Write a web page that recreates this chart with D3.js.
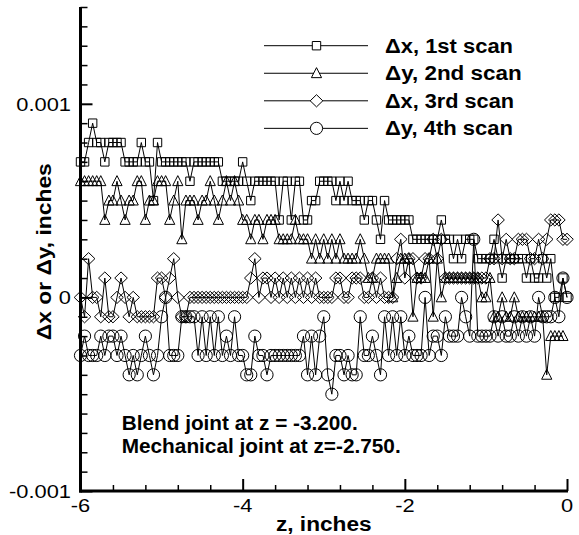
<!DOCTYPE html>
<html><head><meta charset="utf-8">
<script src="https://cdn.jsdelivr.net/npm/d3@7"></script>
<style>body{margin:0;background:#fff} svg{display:block}</style>
</head><body>
<svg id="c" width="579" height="535"></svg>
<script>
// z positions, inches
const zValues = [-6,-5.95,-5.9,-5.85,-5.8,-5.75,-5.7,-5.65,-5.6,-5.55,-5.5,-5.45,-5.4,-5.35,-5.3,-5.25,-5.2,-5.15,-5.1,-5.05,
-5,-4.95,-4.9,-4.85,-4.8,-4.75,-4.7,-4.65,-4.6,-4.55,-4.5,-4.45,-4.4,-4.35,-4.3,-4.25,-4.2,-4.15,-4.1,-4.05,
-4,-3.95,-3.9,-3.85,-3.8,-3.75,-3.7,-3.65,-3.6,-3.55,-3.5,-3.45,-3.4,-3.35,-3.3,-3.25,-3.2,-3.15,-3.1,-3.05,
-3,-2.95,-2.9,-2.85,-2.8,-2.75,-2.7,-2.65,-2.6,-2.55,-2.5,-2.45,-2.4,-2.35,-2.3,-2.25,-2.2,-2.15,-2.1,-2.05,
-2,-1.95,-1.9,-1.85,-1.8,-1.75,-1.7,-1.65,-1.6,-1.55,-1.5,-1.45,-1.4,-1.35,-1.3,-1.25,-1.2,-1.15,-1.1,-1.05,
-1,-0.95,-0.9,-0.85,-0.8,-0.75,-0.7,-0.65,-0.6,-0.55,-0.5,-0.45,-0.4,-0.35,-0.3,-0.25,-0.2,-0.15,-0.1,-0.05,0];

// deviations in units of 0.0001 inch
const dx1st = [7,7,8,9,8,8,7,8,8,8,8,7,7,7,7,8,7,7,5,8,7,7,7,7,7,
7,7,6,7,7,7,7,7,7,7,6,6,6,6,6,7,6,5,6,6,6,6,6,6,
4,6,6,4,6,6,4,4,5,5,6,6,6,6,5,6,5,6,5,5,5,4,5,5,
4,3,5,4,4,4,4,4,4,3,3,3,3,3,3,3,4,3,3,2,3,2,3,3,
3,2,2,2,2,3,2,1,2,2,2,2,2,1,2,1,1,2,1,2,0,0,1,0];
const dy2nd = [6,6,6,6,6,6,4,5,5,6,5,4,5,5,6,6,4,5,5,6,6,6,4,5,6,
3,5,5,5,4,5,5,6,5,4,5,6,5,6,5,4,4,3,4,4,3,4,4,4,
3,3,3,3,4,3,3,3,2,3,2,3,2,3,2,3,2,2,2,2,3,2,1,
1,2,2,2,2,0,1,2,2,2,-1,1,1,1,2,-1,2,0,1,1,1,1,1,1,
1,1,1,0,0,1,-1,-1,0,-1,-1,0,-1,-1,-1,-1,-1,-1,-1,-4,-2,-2,-2,-2];
const dx3rd = [0,-1,2,0,0,-1,1,-1,-1,0,1,0,-1,0,-1,-1,-1,-1,-1,1,1,0,1,2,0,
-1,-1,0,0,0,0,0,0,0,0,0,0,0,0,0,0,0,1,2,0,1,1,0,1,
0,1,0,1,0,1,0,1,0,1,0,0,0,0,1,1,0,0,1,1,1,0,0,1,
0,1,0,0,0,2,3,1,2,2,1,1,2,2,3,2,3,1,1,1,1,1,1,1,
1,1,1,1,2,2,4,2,3,2,2,3,3,3,2,2,3,2,3,4,4,4,3,3];
const dy4th = [-3,-2,-3,-3,-3,-2,-3,-2,-2,-3,-2,-3,-4,-3,-4,-3,-2,-3,-4,-3,-1,0,-3,-3,-3,
-1,-1,-1,-1,-3,-1,-3,-1,-3,-1,-3,-2,-3,-1,-3,-3,-4,-4,-2,-3,-3,-4,-3,-3,
-3,-3,-3,-3,-3,-3,-2,-4,-2,-4,-2,-1,-4,-5,-3,-3,-4,-3,-4,-4,-1,-3,-3,-2,
-3,-4,-1,-3,-1,-3,-1,-3,-2,-3,-3,-3,0,-3,-2,-2,-3,-1,-2,-2,-2,0,-1,-2,
3,-2,-2,-2,-2,-1,-2,-1,-2,-2,-1,-2,-1,-2,-1,-2,0,-1,-1,-1,0,-1,1,0];

const seriesNames = ["\u0394x, 1st scan","\u0394y, 2nd scan","\u0394x, 3rd scan","\u0394y, 4th scan"];
const seriesSymbols = ["square","triangle","diamond","circle"];
const seriesValues = [dx1st, dy2nd, dx3rd, dy4th];
const legendTextLengths = [128, 136.7, 129, 128];

const xMajorTicks = [-6,-4,-2,0];
const xTickLabels = ["-6","-4","-2","0"];
const xMinorTicks = [-5.6,-5.2,-4.8,-4.4,-3.6,-3.2,-2.8,-2.4,-1.6,-1.2,-0.8,-0.4];
const yMajorTicks = [-10,0,10];
const yTickLabels = ["-0.001","0","0.001"];
const yMinorTicks = [-9,-8,-7,-6,-5,-4,-3,-2,-1,1,2,3,4,5,6,7,8,9,11,12,13,14,15];

const xTitle = "z, inches";
const yTitle = "\u0394x or \u0394y, inches";
const notes = ["Blend joint at z = -3.200.", "Mechanical joint at z=-2.750."];

const svg = d3.select("#c");
const FONT = "'Liberation Sans', Arial, Helvetica, sans-serif";
const x = d3.scaleLinear().domain([-6, 0]).range([80.5, 567]);
const y = d3.scaleLinear().domain([-10, 15]).range([491, 7]);

// axes
function styleAxis(g, w) {
  g.select(".domain").remove();
  g.selectAll(".tick line").attr("stroke", "#000").attr("stroke-width", w);
  g.selectAll(".tick text").remove();
}
svg.append("g").attr("transform", "translate(0,491)")
  .call(d3.axisBottom(x).tickValues(xMinorTicks).tickSize(-6).tickFormat(""))
  .call(g => styleAxis(g, 1.5));
svg.append("g").attr("transform", "translate(0,491)")
  .call(d3.axisBottom(x).tickValues(xMajorTicks).tickSize(-12).tickFormat(""))
  .call(g => styleAxis(g, 2));
svg.append("g").attr("transform", "translate(80.5,0)")
  .call(d3.axisLeft(y).tickValues(yMinorTicks).tickSize(-7).tickFormat(""))
  .call(g => styleAxis(g, 1.5));
svg.append("g").attr("transform", "translate(80.5,0)")
  .call(d3.axisLeft(y).tickValues(yMajorTicks).tickSize(-12).tickFormat(""))
  .call(g => styleAxis(g, 2));

svg.append("line").attr("x1", x(-6)).attr("x2", x(-6)).attr("y1", y(15)).attr("y2", y(-10) + 1.5)
  .attr("stroke", "#000").attr("stroke-width", 3);
svg.append("line").attr("x1", x(-6) - 1.5).attr("x2", x(0) + 1).attr("y1", y(-10)).attr("y2", y(-10))
  .attr("stroke", "#000").attr("stroke-width", 3);

// tick labels
xMajorTicks.forEach((t, i) => {
  svg.append("text").attr("transform", `translate(${x(t)},512) scale(1.15,1)`)
    .attr("text-anchor", "middle").attr("font-family", FONT).attr("font-size", 19)
    .text(xTickLabels[i]);
});
yMajorTicks.forEach((t, i) => {
  svg.append("text").attr("transform", `translate(71,${y(t) + 6.8}) scale(1.15,1)`)
    .attr("text-anchor", "end").attr("font-family", FONT).attr("font-size", 19)
    .text(yTickLabels[i]);
});

// axis titles
svg.append("text").attr("x", 323.8).attr("y", 530.5).attr("text-anchor", "middle")
  .attr("font-family", FONT).attr("font-size", 20).attr("font-weight", "bold")
  .attr("textLength", 95.7).attr("lengthAdjust", "spacingAndGlyphs").text(xTitle);
svg.append("text").attr("transform", "translate(51,251.7) rotate(-90)").attr("text-anchor", "middle")
  .attr("font-family", FONT).attr("font-size", 20).attr("font-weight", "bold")
  .attr("textLength", 177).attr("lengthAdjust", "spacingAndGlyphs").text(yTitle);

// symbols
function symbolPath(type) {
  if (type === "square") return "M-4.2,-4.2H4.2V4.2H-4.2Z";
  if (type === "triangle") return "M0,-5.6L5.1,4.4L-5.1,4.4Z";
  if (type === "diamond") return "M0,-6.1L6.3,0L0,6.1L-6.3,0Z";
  return "M6.1,0A6.1,6.1 0 1,1 -6.1,0A6.1,6.1 0 1,1 6.1,0Z";
}

const line = d3.line().x((d, i) => x(zValues[i])).y(d => y(d));
seriesValues.forEach((vals, s) => {
  const g = svg.append("g");
  g.append("path").attr("d", line(vals)).attr("fill", "none").attr("stroke", "#000").attr("stroke-width", 1);
  g.selectAll("path.m").data(vals).enter().append("path").attr("class", "m")
    .attr("d", symbolPath(seriesSymbols[s]))
    .attr("transform", (d, i) => `translate(${x(zValues[i])},${y(d)})`)
    .attr("fill", "none").attr("stroke", "#000").attr("stroke-width", 1);
});

// legend
seriesNames.forEach((name, s) => {
  const ry = 45.7 + s * 27.55;
  svg.append("line").attr("x1", 264).attr("x2", 368).attr("y1", ry).attr("y2", ry)
    .attr("stroke", "#000").attr("stroke-width", 1);
  svg.append("path").attr("d", symbolPath(seriesSymbols[s]))
    .attr("transform", `translate(316.5,${ry})`)
    .attr("fill", "#fff").attr("stroke", "#000").attr("stroke-width", 1);
  svg.append("text").attr("x", 385).attr("y", ry + 6.8)
    .attr("font-family", FONT).attr("font-size", 20).attr("font-weight", "bold")
    .attr("textLength", legendTextLengths[s]).attr("lengthAdjust", "spacingAndGlyphs").text(name);
});

// notes
const noteLengths = [236, 279];
notes.forEach((t, i) => {
  svg.append("text").attr("x", 121.7).attr("y", 430 + i * 23)
    .attr("font-family", FONT).attr("font-size", 20).attr("font-weight", "bold")
    .attr("textLength", noteLengths[i]).attr("lengthAdjust", "spacingAndGlyphs").text(t);
});
</script>
</body></html>
